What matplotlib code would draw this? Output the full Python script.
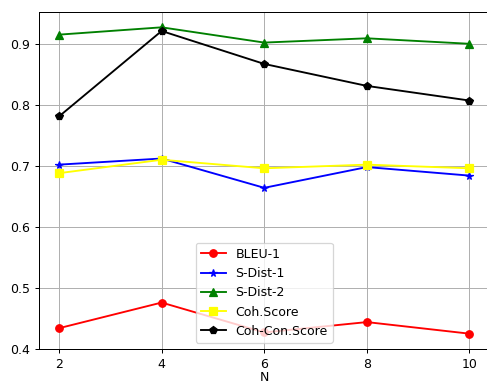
import matplotlib
matplotlib.use("Agg")
import matplotlib.pyplot as plt

N = [2, 4, 6, 8, 10]
bleu1 = [0.434, 0.476, 0.427, 0.444, 0.425]
sdist1 = [0.702, 0.712, 0.664, 0.698, 0.684]
sdist2 = [0.915, 0.927, 0.902, 0.909, 0.900]
coh = [0.688, 0.710, 0.696, 0.702, 0.696]
cohcon = [0.781, 0.921, 0.867, 0.831, 0.807]

W, H = 487, 383
dpi = 90
fig = plt.figure(figsize=(W / dpi, H / dpi), dpi=dpi)
ax = fig.add_axes([38.5 / W, 34 / H, 451.5 / W, 337 / H])

ax.plot(N, bleu1, color="red", marker="o", label="BLEU-1")
ax.plot(N, sdist1, color="blue", marker="*", label="S-Dist-1")
ax.plot(N, sdist2, color="green", marker="^", label="S-Dist-2")
ax.plot(N, coh, color="yellow", marker="s", label="Coh.Score")
ax.plot(N, cohcon, color="black", marker="p", label="Coh-Con.Score")

ax.set_xticks(N)
ax.set_yticks([0.4, 0.5, 0.6, 0.7, 0.8, 0.9])
ax.grid(True)
ax.set_xlabel("N", labelpad=0)
ax.legend(loc="lower center")

fig.savefig("out.png", dpi=dpi)
